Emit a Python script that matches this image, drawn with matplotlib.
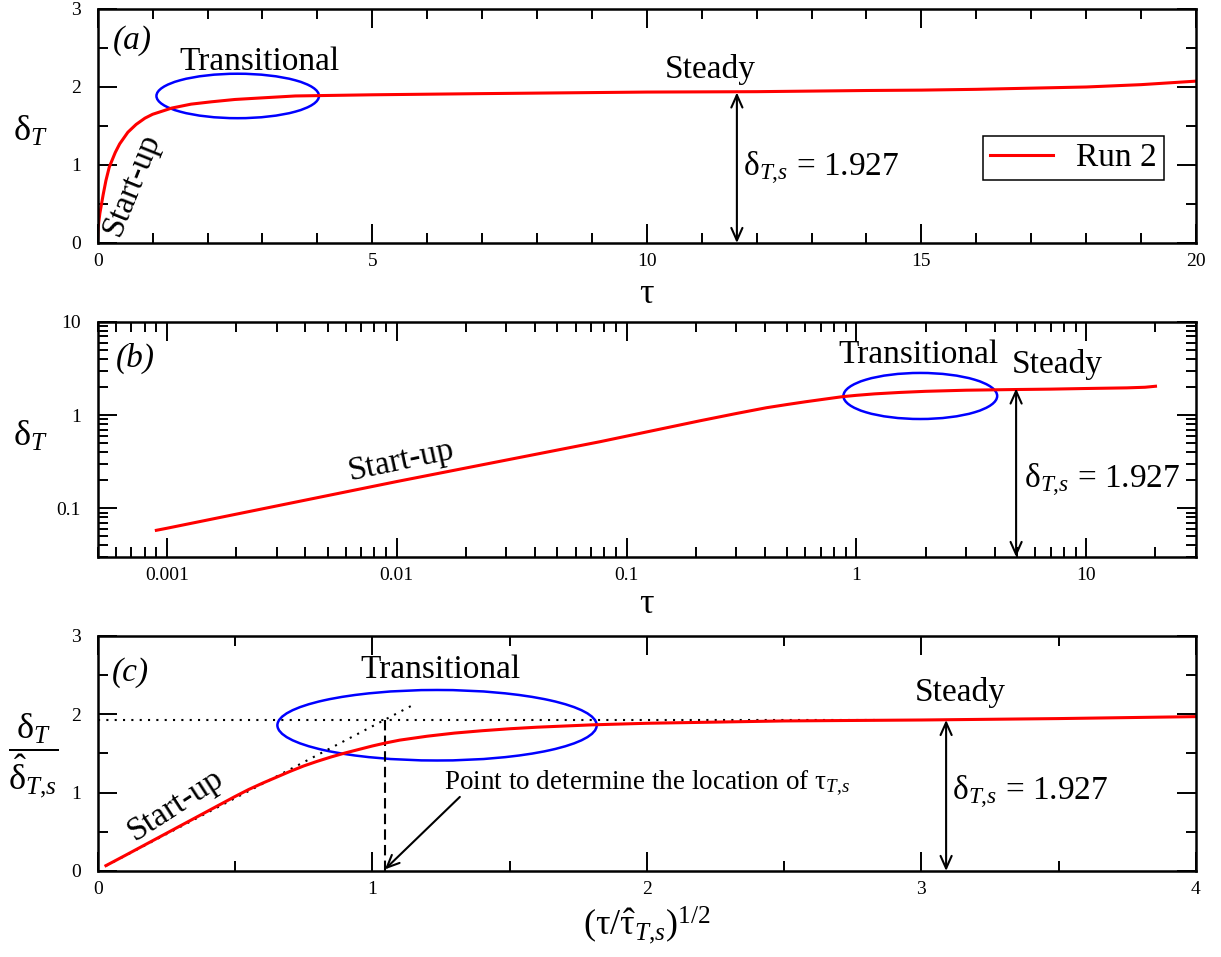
import matplotlib
matplotlib.use('Agg')
import matplotlib.pyplot as plt
from matplotlib.patches import Ellipse
from matplotlib.ticker import MultipleLocator, LogLocator, FormatStrFormatter, NullFormatter

plt.rcParams['font.family'] = ['Liberation Serif', 'DejaVu Serif']
plt.rcParams['mathtext.fontset'] = 'custom'
plt.rcParams['mathtext.rm'] = 'Liberation Serif'
plt.rcParams['mathtext.it'] = 'Liberation Serif:italic'
plt.rcParams['mathtext.bf'] = 'Liberation Serif:bold'

# Run 2, panel (a): delta_T vs tau (linear axes)
tau_a = [0.001, 0.005, 0.01, 0.02, 0.04, 0.07, 0.1, 0.15, 0.21, 0.25, 0.32, 0.4,
         0.55, 0.7, 0.86, 1.0, 1.35, 1.7, 2.07, 2.5, 2.98, 3.6,
         5.0, 7.0, 10.0, 12.0, 14.0, 15.0, 16.0, 17.0, 18.0, 19.0, 20.0]
delta_a = [0.06, 0.14, 0.20, 0.27, 0.38, 0.50, 0.62, 0.80, 0.97, 1.04, 1.16, 1.27,
           1.42, 1.52, 1.60, 1.65, 1.73, 1.78, 1.81, 1.84, 1.86, 1.885,
           1.90, 1.915, 1.935, 1.94, 1.955, 1.96, 1.97, 1.985, 2.00, 2.03, 2.075]

# Run 2, panel (b): delta_T vs tau (log-log axes)
tau_b = [0.0009, 0.001, 0.01, 0.0766, 0.2086, 0.3, 0.406, 0.5, 0.6, 0.75, 0.875,
         1.0, 1.2, 1.54, 2.0, 3.0, 4.8, 7.0, 10.0, 15.0, 18.0, 20.0]
delta_b = [0.058, 0.061, 0.1935, 0.518, 0.869, 1.04, 1.20, 1.30, 1.39, 1.50, 1.58,
           1.63, 1.69, 1.75, 1.80, 1.85, 1.88, 1.90, 1.93, 1.96, 1.99, 2.04]

# Run 2, panel (c): scaled delta vs (tau/tau_hat)^1/2
x_c = [0.03, 0.1, 0.2, 0.3, 0.4, 0.5, 0.55, 0.6, 0.65, 0.7, 0.75, 0.8, 0.85, 0.9,
       0.95, 1.0, 1.05, 1.1, 1.2, 1.3, 1.4, 1.5, 1.6, 1.8, 2.0, 2.5, 3.0, 3.5, 4.0]
y_c = [0.068, 0.198, 0.386, 0.574, 0.762, 0.95, 1.04, 1.12, 1.195, 1.27, 1.34, 1.40,
       1.455, 1.505, 1.55, 1.595, 1.635, 1.67, 1.72, 1.76, 1.79, 1.815, 1.835, 1.865,
       1.885, 1.915, 1.927, 1.945, 1.97]

# start-up asymptote and steady value in panel (c)
startup_x = [0.031, 1.16]
startup_y = [0.068, 2.14]
delta_s = 1.927
tau_s_loc = 1.045

red = '#ff0000'
blue = '#0000ff'
big = 24
tick_fs = 14
steady_label = r'$\mathrm{\delta}_{T{,}s}$ = 1.927'

fig = plt.figure(figsize=(12.21, 9.57), dpi=100)
ax_a = fig.add_axes([0.08, 0.7461, 0.8995, 0.2445])
ax_b = fig.add_axes([0.08, 0.418, 0.8995, 0.2456])
ax_c = fig.add_axes([0.08, 0.0899, 0.8995, 0.2456])


def style(ax):
    for s in ax.spines.values():
        s.set_linewidth(1.8)
    ax.tick_params(which='both', direction='in', top=True, right=True,
                   width=1.4, labelsize=tick_fs)
    ax.tick_params(which='major', length=14)
    ax.tick_params(which='minor', length=7.5)
    ax.tick_params(axis='x', pad=7)
    ax.tick_params(axis='y', pad=12)


def double_arrow(ax, x, y0, y1):
    ax.annotate('', xy=(x, y0), xytext=(x, y1),
                arrowprops=dict(arrowstyle='<->, head_length=0.45, head_width=0.2',
                                color='black', lw=1.5, shrinkA=0, shrinkB=0,
                                mutation_scale=20))


# ---- panel (a)
ax = ax_a
ax.plot(tau_a, delta_a, color=red, lw=2.2, label='Run 2')
ax.set_xlim(0, 20)
ax.set_ylim(0, 3)
ax.xaxis.set_major_locator(MultipleLocator(5))
ax.xaxis.set_minor_locator(MultipleLocator(1))
ax.yaxis.set_major_locator(MultipleLocator(1))
ax.yaxis.set_minor_locator(MultipleLocator(0.5))
style(ax)
ax.add_patch(Ellipse((2.55, 1.885), 2.96, 0.57, fill=False, ec=blue, lw=1.8))
ax.text(0.63, 2.6, '(a)', fontsize=big, style='italic', ha='center', va='center')
ax.text(2.94, 2.32, 'Transitional', fontsize=big, ha='center', va='center')
ax.text(0.63, 0.75, 'Start-up', fontsize=big, rotation=68, ha='center', va='center')
ax.text(11.15, 2.22, 'Steady', fontsize=big, ha='center', va='center')
double_arrow(ax, 11.64, 0, 1.93)
ax.text(11.76, 0.96, steady_label, fontsize=big, ha='left', va='center')
leg = ax.legend(loc='upper left', bbox_to_anchor=(0.806, 0.457), borderaxespad=0,
                fontsize=big, fancybox=False, framealpha=1, edgecolor='black',
                handlelength=1.9, borderpad=0.2, handletextpad=0.7)
leg.get_frame().set_linewidth(1.1)
ax.set_xlabel('τ', fontsize=26, va='center')
ax.set_ylabel(r'$\mathrm{\delta}_T$', fontsize=26, rotation=0, va='center', ha='center')
ax.xaxis.set_label_coords(0.5, -0.222)
ax.yaxis.set_label_coords(-0.0616, 0.474)

# ---- panel (b)
ax = ax_b
ax.plot(tau_b, delta_b, color=red, lw=2.2)
ax.set_xscale('log')
ax.set_yscale('log')
ax.set_xlim(0.0005, 30)
ax.set_ylim(0.03, 10)
for axis in (ax.xaxis, ax.yaxis):
    axis.set_major_locator(LogLocator(base=10))
    axis.set_minor_locator(LogLocator(base=10, subs=range(2, 10), numticks=20))
    axis.set_major_formatter(FormatStrFormatter('%g'))
    axis.set_minor_formatter(NullFormatter())
style(ax)
ax.add_patch(Ellipse((0.749, 0.685), 0.140, 0.196, transform=ax.transAxes,
                     fill=False, ec=blue, lw=1.8))
ax.text(0.034, 0.847, '(b)', fontsize=big, style='italic', ha='center', va='center',
        transform=ax.transAxes)
ax.text(0.276, 0.409, 'Start-up', fontsize=big, rotation=12, ha='center', va='center',
        transform=ax.transAxes)
ax.text(0.747, 0.86, 'Transitional', fontsize=big, ha='center', va='center',
        transform=ax.transAxes)
ax.text(0.874, 0.817, 'Steady', fontsize=big, ha='center', va='center',
        transform=ax.transAxes)
double_arrow(ax, 4.95, 0.03, 1.93)
ax.text(0.843, 0.328, steady_label, fontsize=big, ha='left',
        va='center', transform=ax.transAxes)
ax.set_xlabel('τ', fontsize=26, va='center')
ax.set_ylabel(r'$\mathrm{\delta}_T$', fontsize=26, rotation=0, va='center', ha='center')
ax.xaxis.set_label_coords(0.5, -0.204)
ax.yaxis.set_label_coords(-0.0616, 0.51)

# ---- panel (c)
ax = ax_c
ax.plot([0, 2.83], [delta_s, delta_s], color='black', lw=1.5, linestyle=(0, (1, 3)))
ax.plot(startup_x, startup_y, color='black', lw=1.5, linestyle=(0, (1, 3)))
ax.plot([tau_s_loc, tau_s_loc], [0, delta_s], color='black', lw=1.5, linestyle=(0, (5, 2.5)))
ax.plot(x_c, y_c, color=red, lw=2.2)
ax.set_xlim(0, 4)
ax.set_ylim(0, 3)
ax.xaxis.set_major_locator(MultipleLocator(1))
ax.xaxis.set_minor_locator(MultipleLocator(0.5))
ax.yaxis.set_major_locator(MultipleLocator(1))
ax.yaxis.set_minor_locator(MultipleLocator(0.5))
style(ax)
ax.add_patch(Ellipse((1.236, 1.86), 1.163, 0.90, fill=False, ec=blue, lw=1.8))
ax.text(0.12, 2.53, '(c)', fontsize=big, style='italic', ha='center', va='center')
ax.text(1.25, 2.57, 'Transitional', fontsize=big, ha='center', va='center')
ax.text(0.285, 0.85, 'Start-up', fontsize=big, rotation=33, ha='center', va='center')
ax.text(3.14, 2.28, 'Steady', fontsize=big, ha='center', va='center')
double_arrow(ax, 3.09, 0, delta_s)
ax.text(3.11, 1.0, steady_label, fontsize=big, ha='left', va='center')
ax.text(1.262, 1.12, r'Point to determine the location of $\mathrm{\tau}_{T{,}s}$',
        fontsize=19.5, ha='left', va='center')
ax.annotate('', xy=(1.046, 0.02), xytext=(1.319, 0.945),
            arrowprops=dict(arrowstyle='->, head_length=0.45, head_width=0.2',
                            color='black', lw=1.5, shrinkA=0, shrinkB=0,
                            mutation_scale=20))
ax.set_xlabel(r'$(\mathrm{\tau}/\hat{\mathrm{\tau}}_{T{,}s})^{1/2}$', fontsize=26, va='center')
ax.set_ylabel(r'$\dfrac{\mathrm{\delta}_T}{\hat{\mathrm{\delta}}_{T{,}s}}$', fontsize=26,
              rotation=0, va='center', ha='center')
ax.xaxis.set_label_coords(0.5, -0.23)
ax.yaxis.set_label_coords(-0.059, 0.49)

fig.savefig('out.png', dpi=100)
